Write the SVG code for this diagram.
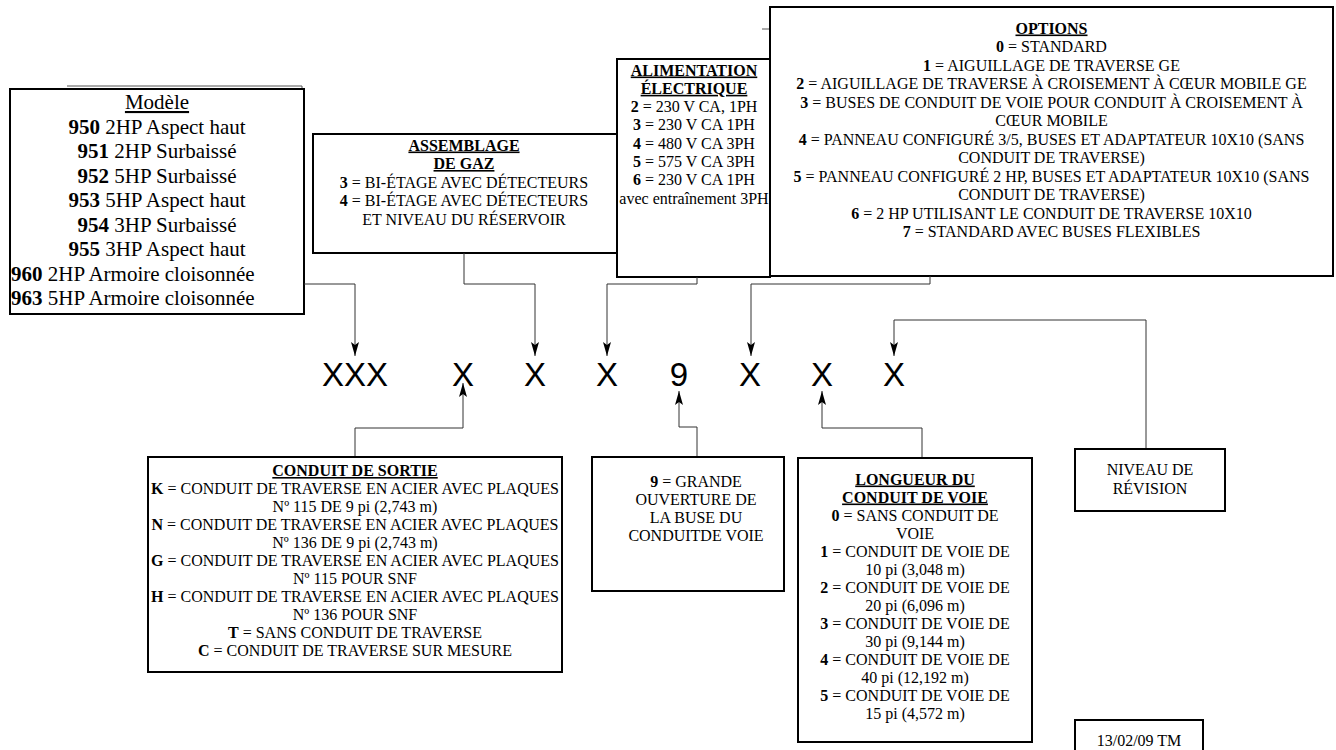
<svg xmlns="http://www.w3.org/2000/svg" width="1336" height="750" viewBox="0 0 1336 750">
<style>
.box{fill:#fff;stroke:#000;stroke-width:2}
.t{font-family:"Liberation Serif","Times New Roman",serif;font-size:16px;fill:#000;text-anchor:middle}
.m{font-size:21px}
.b{font-weight:bold}
.u{text-decoration:underline}
.code{font-family:"Liberation Sans",Arial,sans-serif;font-size:33px;fill:#000;text-anchor:middle}
.c{fill:none;stroke:#333;stroke-width:1}
.ghost{fill:none;stroke:#555;stroke-width:1}
</style>
<defs>
<marker id="ah" viewBox="0 0 14 8" refX="14" refY="4" markerWidth="14" markerHeight="8" markerUnits="userSpaceOnUse" orient="auto">
<path d="M0,0 L14,4 L0,8 L3,4 Z" fill="#000"/>
</marker>
</defs>
<rect width="1336" height="750" fill="#fff"/>

<g id="modele">
<path class="ghost" d="M67,86 H302 V89"/>
<rect class="box" x="10" y="89" width="294" height="225"/>
<text class="t m u" x="157" y="109">Modèle</text>
<text class="t m" x="157" y="133.5"><tspan class="b">950</tspan> 2HP Aspect haut</text>
<text class="t m" x="157" y="158"><tspan class="b">951</tspan> 2HP Surbaissé</text>
<text class="t m" x="157" y="182.5"><tspan class="b">952</tspan> 5HP Surbaissé</text>
<text class="t m" x="157" y="207"><tspan class="b">953</tspan> 5HP Aspect haut</text>
<text class="t m" x="157" y="231.5"><tspan class="b">954</tspan> 3HP Surbaissé</text>
<text class="t m" x="157" y="256"><tspan class="b">955</tspan> 3HP Aspect haut</text>
<text class="t m" x="11" y="280.5" style="text-anchor:start"><tspan class="b">960</tspan> 2HP Armoire cloisonnée</text>
<text class="t m" x="11" y="305" style="text-anchor:start"><tspan class="b">963</tspan> 5HP Armoire cloisonnée</text>
</g>

<g id="gaz">
<rect class="box" x="313" y="134" width="304" height="119"/>
<text class="t b u" x="464" y="150.5">ASSEMBLAGE</text>
<text class="t b u" x="464" y="169">DE GAZ</text>
<text class="t" x="464" y="187.5"><tspan class="b">3</tspan> = BI-ÉTAGE AVEC DÉTECTEURS</text>
<text class="t" x="464" y="206"><tspan class="b">4</tspan> = BI-ÉTAGE AVEC DÉTECTEURS</text>
<text class="t" x="464" y="224.5">ET NIVEAU DU RÉSERVOIR</text>
</g>

<g id="alimentation">
<rect class="box" x="617" y="59" width="153" height="218"/>
<text class="t b u" x="694" y="75.5">ALIMENTATION</text>
<text class="t b u" x="694" y="93.8">ÉLECTRIQUE</text>
<text class="t" x="694" y="112.1"><tspan class="b">2</tspan> = 230 V CA, 1PH</text>
<text class="t" x="694" y="130.4"><tspan class="b">3</tspan> = 230 V CA 1PH</text>
<text class="t" x="694" y="148.7"><tspan class="b">4</tspan> = 480 V CA 3PH</text>
<text class="t" x="694" y="167"><tspan class="b">5</tspan> = 575 V CA 3PH</text>
<text class="t" x="694" y="185.3"><tspan class="b">6</tspan> = 230 V CA 1PH</text>
<text class="t" x="694" y="203.6">avec entraînement 3PH</text>
</g>

<g id="options">
<path class="ghost" d="M762,29 H770"/>
<rect class="box" x="770" y="7" width="563" height="269"/>
<text class="t b u" x="1051.5" y="33.5">OPTIONS</text>
<text class="t" x="1051.5" y="52"><tspan class="b">0</tspan> = STANDARD</text>
<text class="t" x="1051.5" y="70.5"><tspan class="b">1</tspan> = AIGUILLAGE DE TRAVERSE GE</text>
<text class="t" x="1051.5" y="89"><tspan class="b">2</tspan> = AIGUILLAGE DE TRAVERSE À CROISEMENT À CŒUR MOBILE GE</text>
<text class="t" x="1051.5" y="107.5"><tspan class="b">3</tspan> = BUSES DE CONDUIT DE VOIE POUR CONDUIT À CROISEMENT À</text>
<text class="t" x="1051.5" y="126">CŒUR MOBILE</text>
<text class="t" x="1051.5" y="144.5"><tspan class="b">4</tspan> = PANNEAU CONFIGURÉ 3/5, BUSES ET ADAPTATEUR 10X10 (SANS</text>
<text class="t" x="1051.5" y="163">CONDUIT DE TRAVERSE)</text>
<text class="t" x="1051.5" y="181.5"><tspan class="b">5</tspan> = PANNEAU CONFIGURÉ 2 HP, BUSES ET ADAPTATEUR 10X10 (SANS</text>
<text class="t" x="1051.5" y="200">CONDUIT DE TRAVERSE)</text>
<text class="t" x="1051.5" y="218.5"><tspan class="b">6</tspan> = 2 HP UTILISANT LE CONDUIT DE TRAVERSE 10X10</text>
<text class="t" x="1051.5" y="237"><tspan class="b">7</tspan> = STANDARD AVEC BUSES FLEXIBLES</text>
</g>

<g id="code">
<text class="code" x="355" y="386">XXX</text>
<text class="code" x="463" y="386">X</text>
<text class="code" x="535" y="386">X</text>
<text class="code" x="607" y="386">X</text>
<text class="code" x="679" y="386">9</text>
<text class="code" x="750" y="386">X</text>
<text class="code" x="822" y="386">X</text>
<text class="code" x="894" y="386">X</text>
</g>

<g id="connectors">
<path class="c" d="M304,284 H355 V356" marker-end="url(#ah)"/>
<path class="c" d="M464,253 V284 H535 V356" marker-end="url(#ah)"/>
<path class="c" d="M697,277 V284 H607 V356" marker-end="url(#ah)"/>
<path class="c" d="M930,276 V284 H751 V356" marker-end="url(#ah)"/>
<path class="c" d="M1146,449 V320 H894 V356" marker-end="url(#ah)"/>
<path class="c" d="M355,457 V428 H463 V383" marker-end="url(#ah)"/>
<path class="c" d="M697,457 V427 H679 V391" marker-end="url(#ah)"/>
<path class="c" d="M922,458 V428 H822 V391" marker-end="url(#ah)"/>
</g>

<g id="sortie">
<rect class="box" x="148" y="457" width="414" height="215"/>
<text class="t b u" x="355" y="476">CONDUIT DE SORTIE</text>
<text class="t" x="355" y="494"><tspan class="b">K</tspan> = CONDUIT DE TRAVERSE EN ACIER AVEC PLAQUES</text>
<text class="t" x="355" y="512">Nº 115 DE 9 pi (2,743 m)</text>
<text class="t" x="355" y="530"><tspan class="b">N</tspan> = CONDUIT DE TRAVERSE EN ACIER AVEC PLAQUES</text>
<text class="t" x="355" y="548">Nº 136 DE 9 pi (2,743 m)</text>
<text class="t" x="355" y="566"><tspan class="b">G</tspan> = CONDUIT DE TRAVERSE EN ACIER AVEC PLAQUES</text>
<text class="t" x="355" y="584">Nº 115 POUR SNF</text>
<text class="t" x="355" y="602"><tspan class="b">H</tspan> = CONDUIT DE TRAVERSE EN ACIER AVEC PLAQUES</text>
<text class="t" x="355" y="620">Nº 136 POUR SNF</text>
<text class="t" x="355" y="638"><tspan class="b">T</tspan> = SANS CONDUIT DE TRAVERSE</text>
<text class="t" x="355" y="656"><tspan class="b">C</tspan> = CONDUIT DE TRAVERSE SUR MESURE</text>
</g>

<g id="buse">
<rect class="box" x="592" y="457" width="192" height="134"/>
<text class="t" x="696" y="487"><tspan class="b">9</tspan> = GRANDE</text>
<text class="t" x="696" y="505">OUVERTURE DE</text>
<text class="t" x="696" y="523">LA BUSE DU</text>
<text class="t" x="696" y="541">CONDUITDE VOIE</text>
</g>

<g id="longueur">
<rect class="box" x="798" y="458" width="234" height="284"/>
<text class="t b u" x="915" y="484.5">LONGUEUR DU</text>
<text class="t b u" x="915" y="502.5">CONDUIT DE VOIE</text>
<text class="t" x="915" y="520.5"><tspan class="b">0</tspan> = SANS CONDUIT DE</text>
<text class="t" x="915" y="538.5">VOIE</text>
<text class="t" x="915" y="556.5"><tspan class="b">1</tspan> = CONDUIT DE VOIE DE</text>
<text class="t" x="915" y="574.5">10 pi (3,048 m)</text>
<text class="t" x="915" y="592.5"><tspan class="b">2</tspan> = CONDUIT DE VOIE DE</text>
<text class="t" x="915" y="610.5">20 pi (6,096 m)</text>
<text class="t" x="915" y="628.5"><tspan class="b">3</tspan> = CONDUIT DE VOIE DE</text>
<text class="t" x="915" y="646.5">30 pi (9,144 m)</text>
<text class="t" x="915" y="664.5"><tspan class="b">4</tspan> = CONDUIT DE VOIE DE</text>
<text class="t" x="915" y="682.5">40 pi (12,192 m)</text>
<text class="t" x="915" y="700.5"><tspan class="b">5</tspan> = CONDUIT DE VOIE DE</text>
<text class="t" x="915" y="718.5">15 pi (4,572 m)</text>
</g>

<g id="revision">
<rect class="box" x="1075" y="449" width="150" height="62"/>
<text class="t" x="1150" y="474.5">NIVEAU DE</text>
<text class="t" x="1150" y="493.5">RÉVISION</text>
</g>

<g id="date">
<rect class="box" x="1075" y="720" width="128" height="40"/>
<text class="t" x="1139" y="745.5">13/02/09 TM</text>
</g>
</svg>
